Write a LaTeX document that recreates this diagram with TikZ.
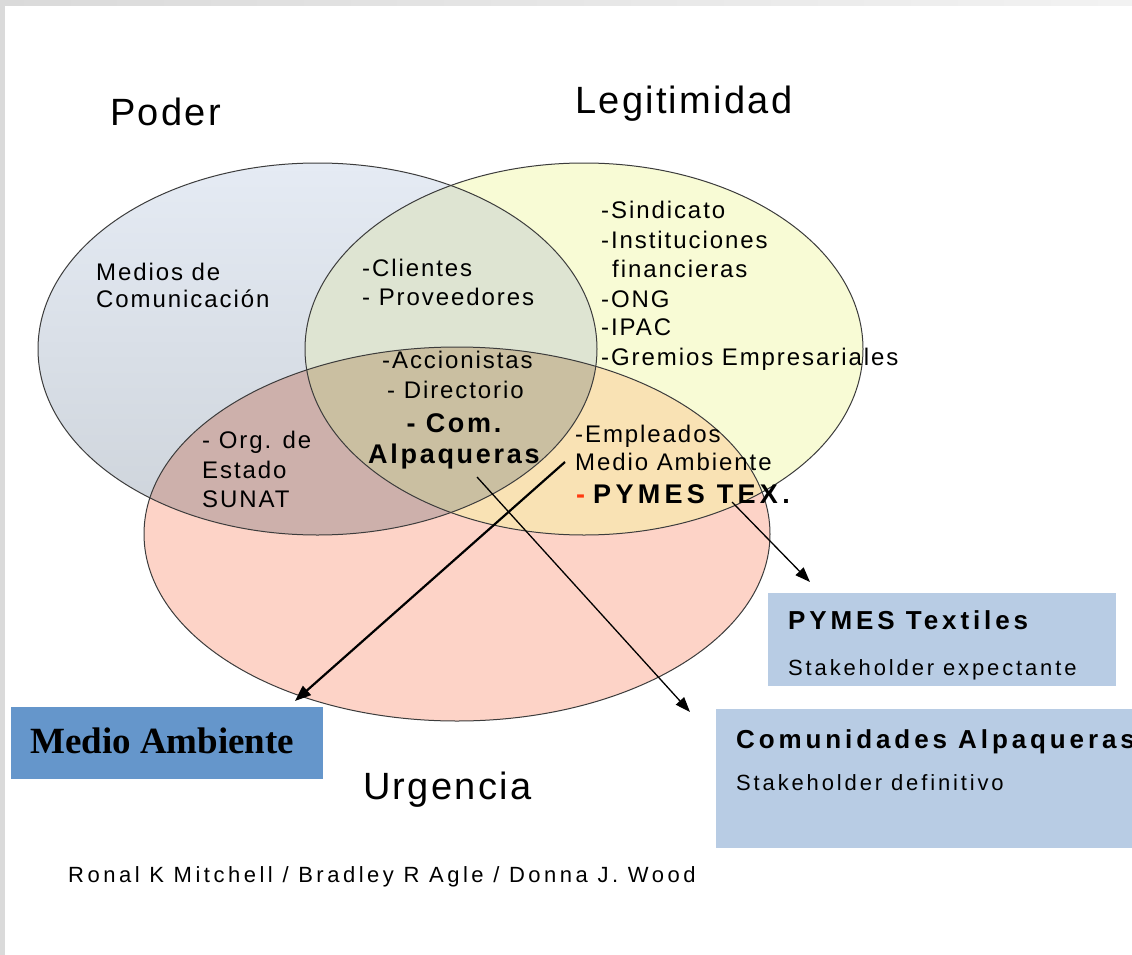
\documentclass[tikz,border=0pt]{standalone}
\usepackage{fontspec}
\setmainfont{Liberation Sans}
\newfontfamily\fntA[LetterSpace=8]{Liberation Sans}
\newfontfamily\fntB[LetterSpace=10]{Liberation Sans}
\newfontfamily\fntBw[LetterSpace=16]{Liberation Sans}
\newfontfamily\fntBx[LetterSpace=15]{Liberation Sans}
\newfontfamily\fntH[LetterSpace=6]{Liberation Sans}
\newfontfamily\fntC[LetterSpace=13]{Liberation Sans}
\newfontfamily\fntD[LetterSpace=16]{Liberation Sans}
\newfontfamily\fntT{Liberation Serif}
\usetikzlibrary{arrows.meta}
\definecolor{cP}{HTML}{E5EBF4}
\definecolor{cPb}{HTML}{CDD3DA}
\definecolor{cL}{HTML}{F8FBD5}
\definecolor{cU}{HTML}{FDD3C7}
\definecolor{cPL}{HTML}{DEE4D2}
\definecolor{cPU}{HTML}{CDB0AB}
\definecolor{cLU}{HTML}{F9E2B4}
\definecolor{cPLU}{HTML}{CABFA1}
\definecolor{cEdge}{HTML}{3C3C3C}
\definecolor{cBoxL}{HTML}{B8CCE4}
\definecolor{cBoxD}{HTML}{6596CB}
\definecolor{cRed}{HTML}{FF3A10}
\definecolor{cFrame}{HTML}{DADADA}
\tikzset{
  body/.style={anchor=base west, inner sep=0pt, font=\fntA\fontsize{24}{28}\selectfont},
  bodyb/.style={anchor=base west, inner sep=0pt, font=\fntB\bfseries\fontsize{27}{31}\selectfont},
  bodybw/.style={anchor=base west, inner sep=0pt, font=\fntBw\bfseries\fontsize{27}{31}\selectfont},
  head/.style={anchor=base west, inner sep=0pt, font=\fntH\fontsize{38}{44}\selectfont},
  boxt/.style={anchor=base west, inner sep=0pt, font=\fntBx\bfseries\fontsize{26}{30}\selectfont},
  boxs/.style={anchor=base west, inner sep=0pt, font=\fntC\fontsize{22}{26}\selectfont},
  cite/.style={anchor=base west, inner sep=0pt, font=\fntD\fontsize{22}{26}\selectfont},
  panel/.style={anchor=north west, inner sep=0pt, draw=none},
  edge/.style={draw=cEdge, line width=1pt},
  thinarrow/.style={line width=1.3pt, -{Triangle[length=15pt,width=11pt]}},
  thickarrow/.style={line width=2.2pt, -{Triangle[length=16pt,width=12pt]}},
}
\begin{document}
\begin{tikzpicture}[x=1pt,y=-1pt]
\useasboundingbox (0,0) rectangle (1132,955);
\clip (0,0) rectangle (1132,955);
\fill[white] (0,0) rectangle (1132,955);
\shade[left color=cFrame, right color=white!95!black] (0,0) rectangle (1132,6);
\fill[cFrame] (0,0) rectangle (5,955);

% ellipses
\def\Pell{(317.5,349) ellipse [x radius=279.5pt, y radius=186pt]}
\def\Lell{(584,349) ellipse [x radius=279pt, y radius=186pt]}
\def\Uell{(457,534) ellipse [x radius=313pt, y radius=187pt]}
\shade[top color=cP, bottom color=cPb] \Pell;
\fill[cL] \Lell;
\fill[cU] \Uell;
\begin{scope}\clip \Pell; \fill[cPL] \Lell; \end{scope}
\begin{scope}\clip \Pell; \fill[cPU] \Uell; \end{scope}
\begin{scope}\clip \Lell; \fill[cLU] \Uell; \end{scope}
\begin{scope}\clip \Pell; \clip \Lell; \fill[cPLU] \Uell; \end{scope}
\draw[edge] \Pell;
\draw[edge] \Lell;
\draw[edge] \Uell;

% headings
\node[head] (hP) at (110,125) {Poder};
\node[head] (hL) at (575,114) {Legitimidad};
\node[head] (hU) at (363,799) {Urgencia};

% Poder only
\node[body] (t1) at (96,280) {Medios de};
\node[body] (t2) at (96,307) {Comunicación};
% Poder & Legitimidad
\node[body] (t3) at (362,276) {-Clientes};
\node[body] (t4) at (362,305) {- Proveedores};
% Legitimidad only
\node[body] (t5) at (601,218) {-Sindicato};
\node[body] (t6) at (601,248) {-Instituciones};
\node[body] (t7) at (612,277) {financieras};
\node[body] (t8) at (601,307) {-ONG};
\node[body] (t9) at (601,335) {-IPAC};
\node[body] (t10) at (601,365) {-Gremios Empresariales};
% all three
\node[body] (t11) at (382,368) {-Accionistas};
\node[body] (t12) at (387,398) {- Directorio};
\node[bodyb, anchor=base] (t13) at (454,432) {- Com.};
\node[bodyb] (t14) at (368,463) {Alpaqueras};
% Poder & Urgencia
\node[body] (t15) at (202,448) {- Org. de};
\node[body] (t16) at (202,478) {Estado};
\node[body] (t17) at (202,507) {SUNAT};
% Legitimidad & Urgencia
\node[body] (t18) at (575,442) {-Empleados};
\node[body] (t19) at (575,470) {Medio Ambiente};
\node[bodyb, text=cRed] (t20) at (576,503) {-};
\node[bodybw] (t21) at (593,503) {PYMES TEX.};

% boxes
\node[panel, fill=cBoxL, minimum width=348pt, minimum height=93pt] (bxP) at (768,593) {};
\node[panel, fill=cBoxL, minimum width=430pt, minimum height=139pt] (bxC) at (716,709) {};
\node[panel, fill=cBoxD, minimum width=312pt, minimum height=72pt] (bxM) at (11,707) {};
\node[boxt] (b1) at (788,629) {PYMES Textiles};
\node[boxs] (b2) at (788,675) {Stakeholder expectante};
\node[boxt] (b3) at (736,748) {Comunidades Alpaqueras};
\node[boxs] (b4) at (736,790) {Stakeholder definitivo};
\node[anchor=base west, inner sep=0pt, font=\fntT\bfseries\fontsize{37}{42}\selectfont] (b5) at (30,753) {Medio Ambiente};

% citation
\node[cite] (cit) at (68,882) {Ronal K Mitchell / Bradley R Agle / Donna J. Wood};

% arrows
\coordinate (a1s) at (565,462);
\coordinate (a1e) at (295,701);
\coordinate (a2s) at (477,477);
\coordinate (a2e) at (690,712);
\coordinate (a3s) at (732,502);
\coordinate (a3e) at (810,582);
\draw[thickarrow] (a1s) -- (a1e);
\draw[thinarrow] (a2s) -- (a2e);
\draw[thinarrow] (a3s) -- (a3e);
\end{tikzpicture}
\end{document}
